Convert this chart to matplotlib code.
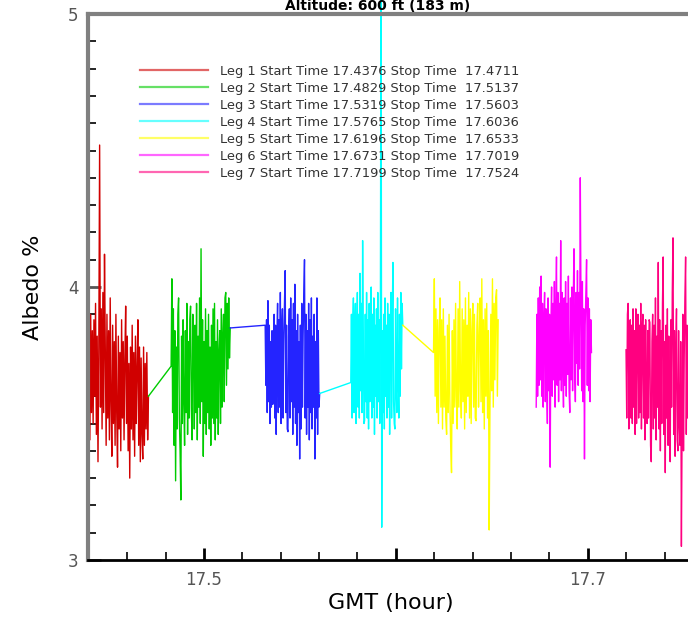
import matplotlib
matplotlib.use("Agg")
import matplotlib.pyplot as plt
import numpy as np
from matplotlib.ticker import MultipleLocator

# start / stop times of each leg (hours GMT), as in the legend
leg_start = [17.4376, 17.4829, 17.5319, 17.5765, 17.6196, 17.6731, 17.7199]
leg_stop = [17.4711, 17.5137, 17.5603, 17.6036, 17.6533, 17.7019, 17.7524]
leg_colors = ["#d00000", "#00cc00", "#2424ff", "#00ffff", "#ffff00", "#ff00ff", "#ff0080"]

# albedo values, per leg
leg1 = [3.80, 3.52, 3.93, 3.48, 3.88, 3.58, 3.80, 3.44, 3.90, 3.54,
        3.84, 3.50, 3.88, 3.60, 3.94, 3.46, 3.82, 3.36, 3.78, 4.52,
        3.56, 3.92, 3.48, 3.98, 3.54, 4.12, 3.76, 3.42, 3.90, 3.52,
        3.84, 3.44, 3.96, 3.58, 3.38, 3.86, 3.50, 3.80, 3.42, 3.90,
        3.54, 3.34, 3.82, 3.48, 3.76, 3.40, 3.88, 3.52, 3.80, 3.44,
        3.74, 3.93, 3.50, 3.82, 3.40, 3.72, 3.30, 3.78, 3.48, 3.86,
        3.44, 3.76, 3.38, 3.82, 3.50, 3.70, 3.88, 3.42, 3.78, 3.36,
        3.74, 3.46, 3.37, 3.78, 3.42, 3.72, 3.48, 3.76, 3.44, 3.60]
leg2 = [3.71, 4.03, 3.54, 3.92, 3.42, 3.84, 3.29, 3.78, 3.48, 3.90,
        3.96, 3.52, 3.40, 3.22, 3.82, 3.50, 3.88, 3.58, 3.42, 3.84,
        3.54, 3.94, 3.46, 3.80, 3.52, 3.88, 3.93, 3.56, 3.44, 3.90,
        3.78, 3.48, 3.86, 3.54, 3.94, 3.44, 3.82, 3.56, 3.96, 3.50,
        4.14, 3.58, 3.88, 3.38, 3.80, 3.50, 3.92, 3.46, 3.84, 3.54,
        3.90, 3.48, 3.78, 3.42, 3.86, 3.52, 3.92, 3.50, 3.94, 3.44,
        3.80, 3.52, 3.88, 3.46, 3.76, 3.84, 3.50, 3.92, 3.56, 3.82,
        3.90, 3.58, 3.96, 3.98, 3.64, 3.94, 3.70, 3.96, 3.74, 3.85]
leg3 = [3.86, 3.64, 3.88, 3.54, 3.95, 3.58, 3.86, 3.50, 3.80, 3.56,
        3.84, 3.57, 3.60, 3.90, 3.52, 3.86, 3.46, 3.82, 3.94, 3.54,
        3.88, 3.56, 3.98, 3.50, 3.84, 3.92, 3.52, 3.80, 3.94, 4.06,
        3.54, 3.86, 3.48, 3.47, 3.82, 3.92, 3.52, 3.96, 3.58, 3.88,
        3.46, 3.94, 3.56, 4.01, 3.50, 3.84, 3.42, 3.90, 3.54, 3.80,
        3.37, 3.86, 3.48, 3.94, 3.56, 3.82, 3.98, 4.10, 3.52, 3.90,
        3.46, 3.84, 3.56, 3.94, 3.44, 3.88, 3.54, 3.96, 3.48, 3.82,
        3.56, 3.90, 3.37, 3.80, 3.52, 3.96, 3.46, 3.84, 3.56, 3.61]
leg4 = [3.65, 3.90, 3.52, 3.86, 3.96, 3.54, 3.84, 3.94, 3.50, 3.80,
        3.98, 3.56, 3.90, 3.52, 4.05, 3.62, 3.94, 3.54, 4.17, 3.84,
        3.50, 3.51, 3.90, 3.58, 3.98, 3.52, 3.88, 3.48, 3.94, 3.58,
        3.84, 4.00, 3.52, 3.90, 3.56, 3.96, 3.46, 3.86, 3.60, 3.92,
        3.52, 3.98, 3.58, 3.88, 3.50, 3.94, 5.30, 3.12, 3.84, 3.54,
        3.90, 3.48, 3.96, 3.60, 3.86, 3.52, 3.94, 3.56, 3.90, 3.46,
        3.84, 3.98, 3.52, 3.88, 4.09, 3.58, 3.50, 3.48, 3.92, 3.62,
        3.54, 3.96, 3.66, 3.52, 3.90, 3.60, 3.98, 3.70, 3.94, 3.86]
leg5 = [3.76, 4.03, 3.60, 3.92, 3.54, 3.88, 3.50, 3.84, 3.96, 3.56,
        3.88, 3.48, 3.92, 3.56, 3.82, 3.52, 3.46, 3.86, 3.54, 3.90,
        3.58, 3.42, 3.32, 3.84, 3.50, 3.88, 3.56, 3.94, 3.60, 3.48,
        3.92, 3.56, 4.02, 3.62, 3.52, 3.92, 3.58, 3.88, 3.48, 3.96,
        3.54, 3.86, 3.60, 3.98, 3.52, 3.92, 3.50, 3.84, 3.94, 3.56,
        3.90, 3.52, 3.51, 3.86, 3.94, 3.56, 3.82, 3.96, 3.58, 4.03,
        3.54, 3.88, 3.48, 3.92, 3.60, 3.94, 3.52, 3.84, 3.11, 3.58,
        3.90, 3.62, 4.03, 3.56, 3.94, 3.66, 3.96, 3.99, 3.60, 3.88]
leg6 = [3.56, 3.90, 3.60, 3.96, 3.64, 4.00, 3.66, 4.04, 3.60, 3.94,
        3.56, 3.88, 3.98, 3.58, 3.92, 3.64, 3.50, 3.96, 3.62, 3.90,
        3.34, 3.86, 4.00, 3.60, 3.94, 3.66, 4.02, 3.56, 3.92, 4.11,
        3.64, 3.98, 3.58, 3.94, 3.66, 4.17, 3.62, 3.98, 3.70, 3.56,
        3.96, 3.64, 4.02, 3.60, 3.94, 3.68, 4.04, 3.62, 3.54, 3.96,
        3.66, 4.00, 3.62, 3.96, 4.14, 3.68, 3.58, 3.98, 3.72, 4.06,
        3.64, 3.98, 3.70, 4.40, 3.94, 3.62, 4.02, 3.58, 3.92, 3.37,
        3.86, 3.98, 4.10, 3.64, 3.96, 3.62, 3.92, 3.58, 3.88, 3.76]
leg7 = [3.77, 3.52, 3.90, 3.94, 3.48, 3.84, 3.88, 3.52, 3.86, 3.50,
        3.92, 3.56, 3.84, 3.46, 3.92, 3.50, 3.82, 3.90, 3.52, 3.86,
        3.54, 3.94, 3.48, 3.82, 3.90, 3.52, 3.86, 3.44, 3.88, 3.58,
        3.50, 3.84, 3.52, 3.88, 3.87, 3.42, 3.36, 3.80, 3.90, 3.48,
        3.86, 3.52, 3.96, 3.44, 3.82, 3.56, 4.09, 3.48, 3.88, 3.40,
        3.84, 3.50, 3.94, 4.11, 3.46, 3.80, 3.32, 3.86, 3.52, 3.92,
        3.42, 3.82, 3.48, 3.36, 3.88, 3.56, 3.98, 4.18, 3.46, 3.84,
        3.38, 3.78, 3.92, 3.44, 3.40, 3.84, 3.50, 3.42, 3.80, 3.05,
        3.50, 3.90, 3.40, 3.74, 3.96, 4.11, 3.46, 3.86, 3.52, 3.70]
legs = [leg1, leg2, leg3, leg4, leg5, leg6, leg7]
# legs 2-5 are joined to the end of the previous leg
joined = [False, True, True, True, True, False, False]

fig = plt.figure(figsize=(6.88, 6.19), dpi=100)
ax = fig.add_axes([88 / 688, 1 - 560 / 619, 615 / 688, 546 / 619])

prev_t, prev_v = None, None
for i, vals in enumerate(legs):
    t = np.linspace(leg_start[i], leg_stop[i], len(vals))
    v = np.array(vals)
    if joined[i]:
        t = np.concatenate([[prev_t], t])
        v = np.concatenate([[prev_v], v])
    label = f"Leg {i + 1} Start Time {leg_start[i]:.4f} Stop Time  {leg_stop[i]:.4f}"
    ax.plot(t, v, color=leg_colors[i], lw=1.0, label=label, clip_on=(i != 3))
    prev_t, prev_v = t[-1], v[-1]

ax.set_xlim(17.4396, 17.76)
ax.set_ylim(3, 5)

ax.set_xticks([17.5, 17.6, 17.7])
ax.set_xticklabels(["17.5", "", "17.7"])
ax.xaxis.set_minor_locator(MultipleLocator(0.02))
ax.set_yticks([3, 4, 5])
ax.yaxis.set_minor_locator(MultipleLocator(0.1))
ax.tick_params(which="both", direction="in", labelsize=12, labelcolor="#555555")
ax.tick_params(which="major", length=9, width=2)
ax.tick_params(which="minor", length=6, width=1.2)
ax.tick_params(axis="y", pad=7, colors="#555555")
ax.tick_params(axis="x", pad=8)

for side in ["left", "top"]:
    ax.spines[side].set_color("#808080")
    ax.spines[side].set_linewidth(3)
ax.spines["bottom"].set_color("black")
ax.spines["bottom"].set_linewidth(2)
ax.spines["right"].set_visible(False)

fig.text(33 / 688, 1 - 287 / 619, "Albedo %", rotation=90, fontsize=16,
         ha="center", va="center")
fig.text(391 / 688, 1 - 603 / 619, "GMT (hour)", fontsize=16, ha="center", va="center")
fig.text(378 / 688, 1 - 10 / 619, "Altitude: 600 ft (183 m)", fontsize=10,
         fontweight="bold", ha="center", va="baseline")

leg = ax.legend(loc="upper left", bbox_to_anchor=(140 / 688, 1 - 65 / 619),
                bbox_transform=fig.transFigure, frameon=False, fontsize=9.4,
                handlelength=5.2, handletextpad=0.9, labelspacing=0.3,
                borderpad=0, borderaxespad=0)
for h in leg.get_lines():
    h.set_linewidth(1.6)
    h.set_alpha(0.6)
for txt in leg.get_texts():
    txt.set_color("#333333")

fig.savefig("out.png", dpi=100)
